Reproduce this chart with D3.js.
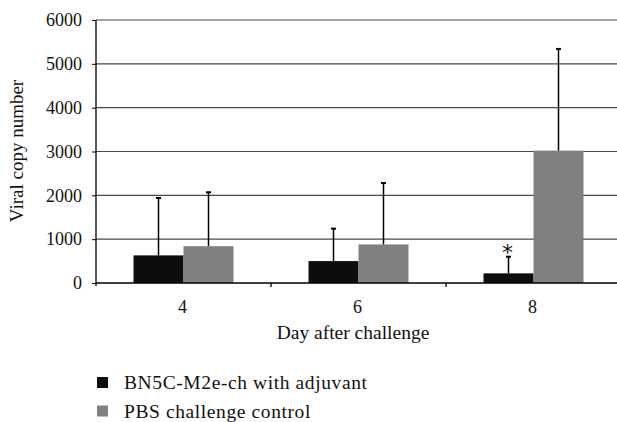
<!DOCTYPE html>
<html>
<head>
<meta charset="utf-8">
<script src="https://cdn.jsdelivr.net/npm/d3@7"></script>
<style>
  body { margin: 0; background: #fff; }
  svg text { font-family: 'Liberation Serif', 'DejaVu Serif', serif; fill: #111; }
</style>
</head>
<body>
<svg id="chart" width="617" height="422"></svg>
<script>
// datos
const days = ['4', '6', '8'];
const seriesNames = ['BN5C-M2e-ch with adjuvant', 'PBS challenge control'];
const vaccineMeans = [630, 500, 220];
const vaccineErrTop = [1940, 1240, 600];
const controlMeans = [840, 880, 3020];
const controlErrTop = [2070, 2280, 5340];
const yTicks = [0, 1000, 2000, 3000, 4000, 5000, 6000];
const colors = ['#0d0d0d', '#808080'];

const FONT = "'Liberation Serif', 'DejaVu Serif', serif";
const svg = d3.select('#chart');
const mLeft = 96, mRight = 621, mTop = 20, mBottom = 283;

const x = d3.scaleBand().domain(days).range([mLeft, mRight])
  .paddingInner(0.4286).paddingOuter(0.2143);
const xSub = d3.scaleBand().domain([0, 1]).range([0, x.bandwidth()]);
const y = d3.scaleLinear().domain([0, 6000]).range([mBottom, mTop]);

// lineas de la rejilla
svg.selectAll('line.grid')
  .data(yTicks.filter(d => d > 0))
  .enter().append('line')
  .attr('class', 'grid')
  .attr('x1', mLeft).attr('x2', 617)
  .attr('y1', d => y(d)).attr('y2', d => y(d))
  .attr('stroke', '#4a4a4a').attr('stroke-width', 1.2);

// eje Y
const yAxis = svg.append('g').attr('transform', `translate(${mLeft},0)`)
  .call(d3.axisLeft(y).tickValues(yTicks).tickSize(4).tickPadding(10).tickFormat(d3.format('d')));
yAxis.attr('font-family', null).attr('font-size', null);
yAxis.select('.domain').attr('stroke', '#000').attr('stroke-width', 1.3).attr('d', `M0,${mTop}V${mBottom + 3}`);
yAxis.selectAll('.tick line').attr('stroke', '#000');
yAxis.selectAll('.tick text').style('font-size', '18px').attr('fill', '#111')
  .style('font-family', FONT);

// barras
const rows = days.map((d, i) => [
  { day: d, s: 0, v: vaccineMeans[i], e: vaccineErrTop[i] },
  { day: d, s: 1, v: controlMeans[i], e: controlErrTop[i] }
]).flat();

svg.selectAll('rect.bar')
  .data(rows)
  .enter().append('rect')
  .attr('class', 'bar')
  .attr('x', d => x(d.day) + xSub(d.s))
  .attr('width', xSub.bandwidth())
  .attr('y', d => y(d.v))
  .attr('height', d => y(0) - y(d.v))
  .attr('fill', d => colors[d.s]);

// barras de error (solo hacia arriba)
const cx = d => x(d.day) + xSub(d.s) + xSub.bandwidth() / 2;
svg.selectAll('line.err')
  .data(rows)
  .enter().append('line')
  .attr('x1', cx).attr('x2', cx)
  .attr('y1', d => y(d.v)).attr('y2', d => y(d.e))
  .attr('stroke', '#000').attr('stroke-width', 1.5);
svg.selectAll('line.cap')
  .data(rows)
  .enter().append('line')
  .attr('x1', d => cx(d) - 2.5).attr('x2', d => cx(d) + 2.5)
  .attr('y1', d => y(d.e)).attr('y2', d => y(d.e))
  .attr('stroke', '#000').attr('stroke-width', 2);

// asterisco para dia 8
const star = rows.find(d => d.day === '8' && d.s === 0);
svg.append('text')
  .attr('x', cx(star) - 1)
  .attr('y', y(star.e) + 3)
  .attr('text-anchor', 'middle')
  .style('font-size', '22px')
  .style('font-family', "'DejaVu Sans', sans-serif")
  .attr('fill', '#222')
  .text('*');

// eje X
const xAxis = svg.append('g').attr('transform', `translate(0,${mBottom})`);
xAxis.append('line').attr('x1', mLeft).attr('x2', 617).attr('stroke', '#000').attr('stroke-width', 1.3);
xAxis.selectAll('line.xt')
  .data(days.slice(1))
  .enter().append('line')
  .attr('x1', d => x(d) - x.step() * x.paddingInner() / 2)
  .attr('x2', d => x(d) - x.step() * x.paddingInner() / 2)
  .attr('y1', 0).attr('y2', 4)
  .attr('stroke', '#000').attr('stroke-width', 1.3);
xAxis.selectAll('text.xl')
  .data(days)
  .enter().append('text')
  .attr('x', d => x(d) + x.bandwidth() / 2 - 1)
  .attr('y', 30)
  .attr('text-anchor', 'middle')
  .style('font-family', FONT)
  .style('font-size', '18px')
  .text(d => d);

// titulos de ejes
svg.append('text')
  .attr('x', 353).attr('y', 339)
  .attr('text-anchor', 'middle')
  .style('font-family', FONT)
  .style('font-size', '19.5px')
  .text('Day after challenge');

svg.append('text')
  .attr('transform', 'translate(23,151) rotate(-90)')
  .attr('text-anchor', 'middle')
  .style('font-family', FONT)
  .style('font-size', '19px')
  .text('Viral copy number');

// leyenda
const legend = svg.selectAll('g.leg')
  .data(seriesNames)
  .enter().append('g')
  .attr('transform', (d, i) => `translate(97,${377 + i * 28.5})`);
legend.append('rect')
  .attr('width', 11).attr('height', 11)
  .attr('fill', (d, i) => colors[i]);
legend.append('text')
  .attr('x', 27).attr('y', 12)
  .style('font-family', FONT)
  .style('font-size', '19.5px')
  .style('letter-spacing', '0.6px')
  .text(d => d);
</script>
</body>
</html>
